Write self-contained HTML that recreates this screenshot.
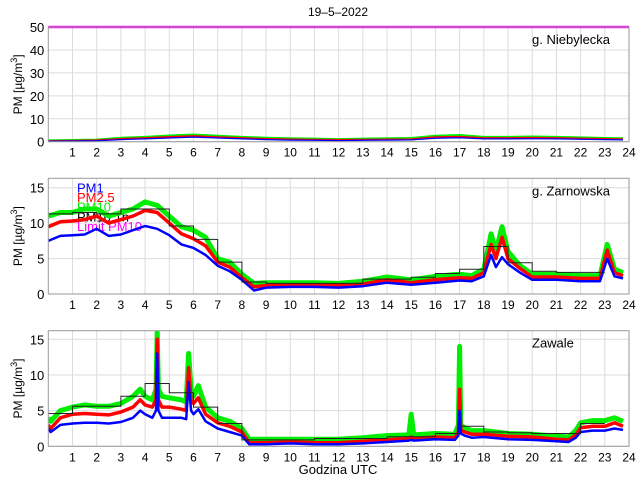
<!DOCTYPE html>
<html><head><meta charset="utf-8"><style>
body{margin:0;background:#fff}
svg{display:block;font-family:"Liberation Sans",sans-serif}
</style></head><body>
<svg id="c" width="640" height="480" viewBox="0 0 640 480">
<text x="338" y="16" font-size="12" text-anchor="middle">19–5–2022</text>
<text x="338" y="474" font-size="13" text-anchor="middle">Godzina UTC</text>
</svg>
<script>
// Panel 1: g. Niebylecka
const p1Times=[0,1,2,3,4,5,6,7,8,9,10,11,12,13,14,15,16,17,18,19,20,21,22,23,23.75];
const p1PM1=[0.2,0.3,0.4,0.9,1.2,1.6,2,1.6,1.2,0.9,0.7,0.6,0.5,0.6,0.7,0.8,1.5,1.7,1.2,1.2,1.3,1.2,1.1,0.9,0.8];
const p1PM25=[0.3,0.4,0.6,1.2,1.6,2.1,2.5,2,1.6,1.2,1,0.9,0.8,0.9,1,1.1,2,2.2,1.6,1.6,1.7,1.6,1.4,1.2,1.1];
const p1PM10=[0.5,0.6,0.8,1.6,2,2.6,3,2.5,2,1.6,1.4,1.2,1,1.2,1.4,1.5,2.5,2.8,2,2,2.2,2,1.8,1.5,1.4];
const p1Limit=50;
// Panel 2: g. Zarnowska
const p2Times=[0,0.5,1,1.5,2,2.5,3,3.5,4,4.5,5,5.5,6,6.5,7,7.5,8,8.5,9,10,11,12,13,14,15,16,17,17.5,18,18.3,18.5,18.75,19,19.5,20,21,22,22.8,23.1,23.4,23.75];
const p2PM1=[7.5,8.2,8.3,8.4,9.2,8.2,8.4,9,9.6,9.2,8.3,7,6.5,5.5,4,3.2,2,0.5,0.9,1,1,0.9,1.1,1.6,1.3,1.6,1.9,1.8,2.5,5.5,3.8,5.2,4.2,3,2,2,1.8,1.8,5,2.5,2.2];
const p2PM25=[9.5,10.2,10.3,10.5,11,10,10.5,11,11.8,11.5,10,8.5,7.8,6.8,4.5,3.8,2.3,1,1.2,1.3,1.3,1.2,1.4,2,1.6,2,2.3,2.2,3,7,5,8,5,3.6,2.4,2.4,2.2,2.2,6.2,3,2.6];
const p2PM10=[11,11.5,11.5,12,12,11,11.5,12,13,12.5,11,9.5,9,8,5,4.5,2.8,1.5,1.6,1.6,1.6,1.5,1.8,2.4,2,2.5,2.8,2.6,3.5,8.5,6,9.5,6,4,2.8,2.8,2.6,2.6,7,3.5,3];
const p2Hourly=[11.3,11.5,11.3,12,12,9.6,7.7,4.5,1.7,1.5,1.5,1.5,1.5,2.1,2.1,2.35,2.9,3.5,6.7,4.4,3.2,3.05,3.05];
// Panel 3: Zawale
const p3Times=[0,0.1,0.5,1,1.5,2,2.5,3,3.5,3.8,4,4.3,4.45,4.5,4.55,4.7,5,5.5,5.7,5.8,5.9,6,6.2,6.5,7,7.5,8,8.3,9,10,11,12,13,14,14.9,15,15.1,16,16.8,16.95,17,17.05,17.2,17.5,18,19,20,21,21.5,21.8,22,22.5,23,23.4,23.75];
const p3PM1=[2.5,2,3,3.2,3.3,3.3,3.2,3.4,4,5,4.5,4,5,13,5,4,4,4,3.8,9,5,4.5,5.2,3.5,2.5,2,1.5,0.3,0.3,0.4,0.3,0.3,0.4,0.6,0.8,0.9,0.8,1,0.9,1.5,5,1.8,1.5,1.2,1.3,1,0.9,0.7,0.6,1.2,2,2.2,2.2,2.5,2.3];
const p3PM25=[3,2.5,4,4.5,4.6,4.5,4.4,4.8,5.5,6.5,5.8,5.5,6.5,15,6.5,5.5,5.5,5.2,5,11,6.5,6,6.8,4.5,3.3,2.8,2,0.5,0.5,0.6,0.5,0.5,0.7,0.9,1.1,1.3,1.1,1.3,1.2,2,8,2.3,2,1.7,1.7,1.4,1.3,1,0.9,1.6,2.6,2.8,2.8,3.3,2.8];
const p3PM10=[4,3.5,5,5.5,5.8,5.6,5.6,6,7,8,7,6.5,8,16,8,7,6.8,6.5,6.2,13,8,7,8.5,5.5,4,3.5,2.5,1,1,1,1,1,1.2,1.5,1.6,4.5,1.6,1.8,1.7,3,14,3,2.6,2.2,2.2,1.8,1.7,1.4,1.3,2.2,3.3,3.6,3.6,4,3.5];
const p3Hourly=[4.6,5.6,5.6,7.0,8.8,7.5,5.5,3.2,0.9,0.9,0.9,1.1,1.1,1.1,1.35,1.35,1.8,2.8,2.0,1.9,1.8,1.8,3.2];
const hourTicks=[1,2,3,4,5,6,7,8,9,10,11,12,13,14,15,16,17,18,19,20,21,22,23,24];

const NS="http://www.w3.org/2000/svg";
const svg=document.getElementById('c');
const X0=48.3,X1=629;
function xs(t){return X0+(X1-X0)*t/24;}
function mk(tag,attrs,parent){const e=document.createElementNS(NS,tag);for(const k in attrs)e.setAttribute(k,attrs[k]);(parent||svg).appendChild(e);return e;}

function panel(id,top,bottom,ymax,yticks,station,times,s1,s25,s10,hourly,limit,legend,wScale){
  const g=mk('g',{});
  
  
  const ys=v=>bottom-(bottom-top)*v/ymax;
  const clipId='clip-'+id;
  const cp=mk('clipPath',{id:clipId},g);mk('rect',{x:X0,y:top,width:X1-X0,height:bottom-top},cp);
  hourTicks.forEach(h=>{
    const l=mk('line',{x1:xs(h),x2:xs(h),y1:top,y2:bottom,stroke:'#dcdcdc','stroke-width':1},g);
    
    
    const t=mk('text',{x:xs(h),y:bottom+15,'font-size':12,'text-anchor':'middle',fill:'#000'},g);
    
    
    t.textContent=h;
  });
  yticks.forEach(v=>{
    const l=mk('line',{x1:X0,x2:X1,y1:ys(v),y2:ys(v),stroke:'#dcdcdc','stroke-width':1},g);
    
    
    const t=mk('text',{x:X0-4,y:ys(v)+5,'font-size':13,'text-anchor':'end',fill:'#000'},g);
    
    
    t.textContent=v;
  });
  if(legend){
    const items=[['PM1','#0000ff'],['PM2.5','#ff0000'],['PM10','#00ee00'],['PM10 1h','#000'],['Limit PM10','#ff00ff']];
    items.forEach((it,i)=>{
      const t=mk('text',{x:77,y:top+14+i*9.7,'font-size':13,fill:it[1]},g);
      
      
      t.textContent=it[0];
    });
  }
  const dg=mk('g',{'clip-path':'url(#'+clipId+')'},g);
  const line=(vals,col,w,name)=>{
    const d=vals.map((v,i)=>(i?'L':'M')+xs(times[i]).toFixed(1)+' '+ys(v).toFixed(1)).join(' ');
    const p=mk('path',{d:d,fill:'none',stroke:col,'stroke-width':w,'stroke-linejoin':'round'},dg);
    
    
  };
  line(s10,'#00ee00',5*wScale,'pm10-line');
  line(s25,'#ff0000',3.5*wScale,'pm25-line');
  line(s1,'#0000ff',2.5*wScale,'pm1-line');
  if(hourly){
    let d='';
    hourly.forEach((v,h)=>{d+=(h?'L':'M')+xs(h).toFixed(1)+' '+ys(v).toFixed(1)+' L'+xs(h+1).toFixed(1)+' '+ys(v).toFixed(1)+' ';});
    const p=mk('path',{d:d,fill:'none',stroke:'#222','stroke-width':1},dg);
    
    
  }
  if(limit!==null){
    const l=mk('line',{x1:X0,x2:X1,y1:ys(limit),y2:ys(limit),stroke:'#ff00ff','stroke-width':2.5},g);
    
    
  }
  const box=mk('rect',{x:X0,y:top,width:X1-X0,height:bottom-top,fill:'none',stroke:'#999','stroke-width':1},g);
  
  
  const st=mk('text',{x:532,y:top+17,'font-size':13,fill:'#000'},g);
  
  
  st.textContent=station;
  const yl=mk('text',{x:0,y:0,'font-size':12,'text-anchor':'middle',transform:'translate(22,'+((top+bottom)/2)+') rotate(-90)'},g);
  
  
  yl.innerHTML='PM [µg/m<tspan dy="-5" font-size="9">3</tspan><tspan dy="5">]</tspan>';
}
panel('niebylecka',27,141.7,50,[0,10,20,30,40,50],'g. Niebylecka',p1Times,p1PM1,p1PM25,p1PM10,null,p1Limit,false,0.5);
panel('zarnowska',178.3,294,16.33,[0,5,10,15],'g. Zarnowska',p2Times,p2PM1,p2PM25,p2PM10,p2Hourly,null,true,1);
panel('zawale',330.7,446.3,16.2,[0,5,10,15],'Zawale',p3Times,p3PM1,p3PM25,p3PM10,p3Hourly,null,false,1);
</script>
</body></html>
